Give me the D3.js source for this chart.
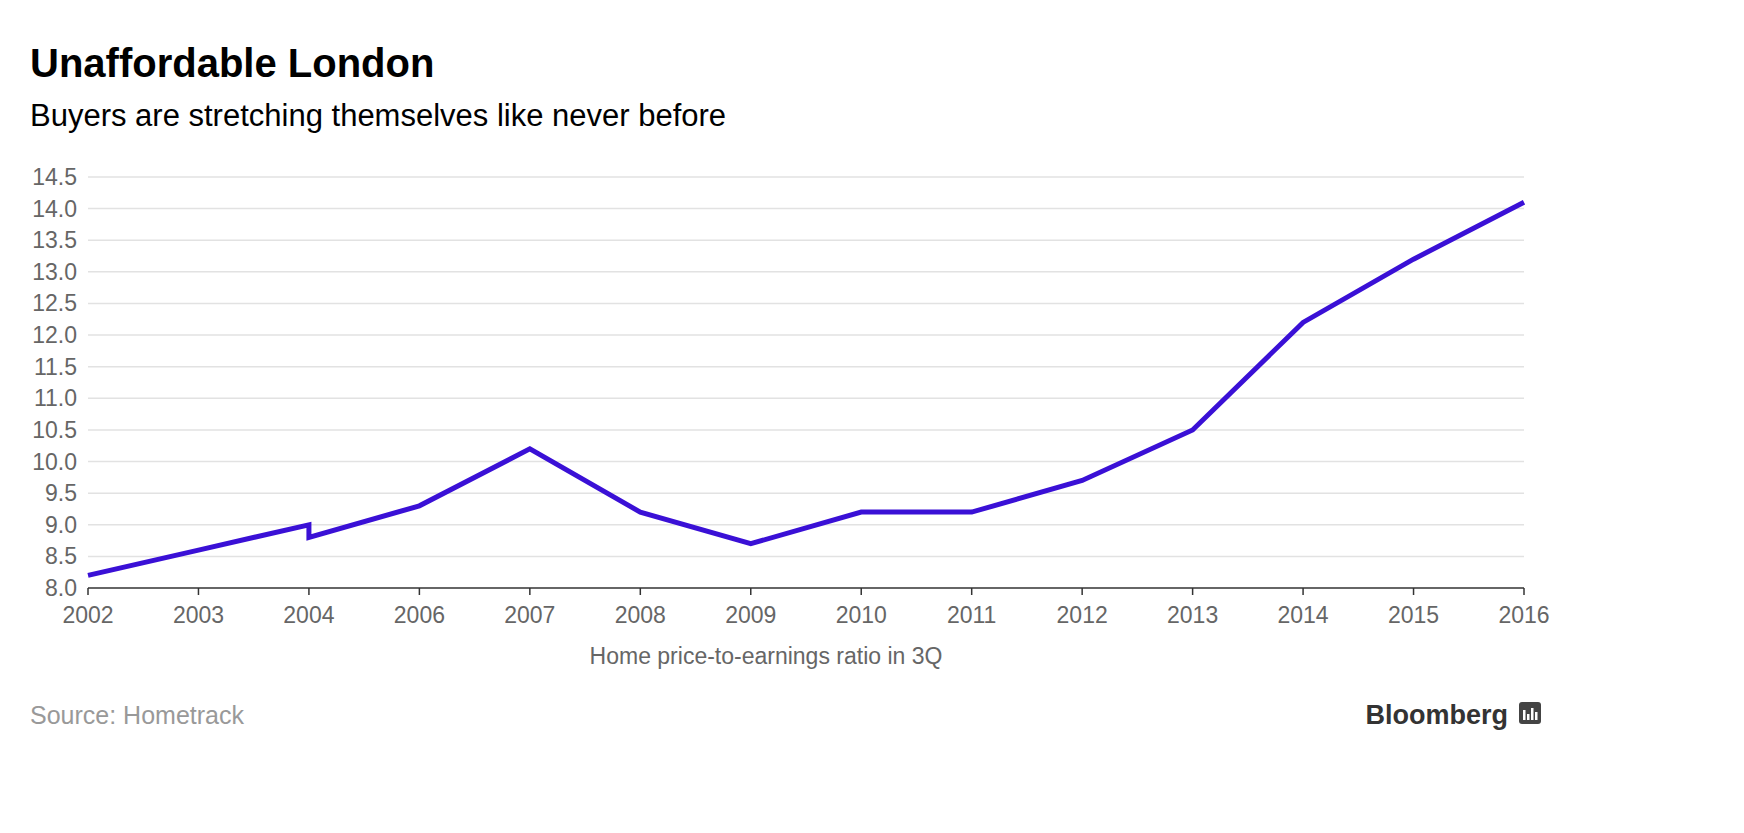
<!DOCTYPE html>
<html><head><meta charset="utf-8">
<script src="https://cdn.jsdelivr.net/npm/d3@7"></script>
<style>body{margin:0;background:#fff;font-family:"Liberation Sans",Arial,sans-serif}</style>
</head><body><svg id="c" width="1744" height="833"></svg>
<script>
const xLabels = ["2002","2003","2004","2006","2007","2008","2009","2010","2011","2012","2013","2014","2015","2016"];
const pointLabels = ["2002","2003","2004","2004","2006","2007","2008","2009","2010","2011","2012","2013","2014","2015","2016"];
const ratios = [8.2,8.6,9.0,8.8,9.3,10.2,9.2,8.7,9.2,9.2,9.7,10.5,12.2,13.2,14.1];
const yTicks = [8.0,8.5,9.0,9.5,10.0,10.5,11.0,11.5,12.0,12.5,13.0,13.5,14.0,14.5];

const svg = d3.select("#c");
const x = d3.scalePoint().domain(xLabels).range([88,1524]);
const y = d3.scaleLinear().domain([8,14.5]).range([588,177]);

svg.append("text").attr("x",30).attr("y",77).attr("font-size",40).attr("font-weight","bold").attr("fill","#000").text("Unaffordable London");
svg.append("text").attr("x",30).attr("y",126).attr("font-size",31).attr("fill","#000").text("Buyers are stretching themselves like never before");

const gy = svg.append("g");
yTicks.forEach(t=>{
  if(t>8) gy.append("line").attr("x1",88).attr("x2",1524).attr("y1",y(t)).attr("y2",y(t)).attr("stroke","#e2e2e2").attr("stroke-width",1.5);
  gy.append("text").attr("x",77).attr("y",y(t)+8).attr("text-anchor","end").attr("font-size",23).attr("fill","#666").text(t.toFixed(1));
});
svg.append("line").attr("x1",88).attr("x2",1524).attr("y1",588).attr("y2",588).attr("stroke","#333").attr("stroke-width",1.5);
xLabels.forEach(l=>{
  svg.append("line").attr("x1",x(l)).attr("x2",x(l)).attr("y1",588).attr("y2",595).attr("stroke","#333").attr("stroke-width",1.5);
  svg.append("text").attr("x",x(l)).attr("y",623).attr("text-anchor","middle").attr("font-size",23).attr("fill","#666").text(l);
});
svg.append("text").attr("x",766).attr("y",664).attr("text-anchor","middle").attr("font-size",23).attr("fill","#666").text("Home price-to-earnings ratio in 3Q");

const line = d3.line().x((d,i)=>x(pointLabels[i])).y(d=>y(d));
svg.append("path").attr("d",line(ratios)).attr("fill","none").attr("stroke","#3a10d6").attr("stroke-width",5).attr("stroke-linejoin","miter");

svg.append("text").attr("x",30).attr("y",724).attr("font-size",25).attr("fill","#999").text("Source: Hometrack");
svg.append("text").attr("x",1508).attr("y",724).attr("text-anchor","end").attr("font-size",27).attr("font-weight","bold").attr("fill","#333").text("Bloomberg");
const lg = svg.append("g").attr("transform","translate(1519,702)");
lg.append("rect").attr("width",22).attr("height",22).attr("rx",3).attr("fill","#444");
[[4,10],[8,6],[12,12],[16,8]].forEach(([bx,h])=>lg.append("rect").attr("x",bx).attr("y",18-h).attr("width",2.5).attr("height",h).attr("fill","#fff"));
</script></body></html>
